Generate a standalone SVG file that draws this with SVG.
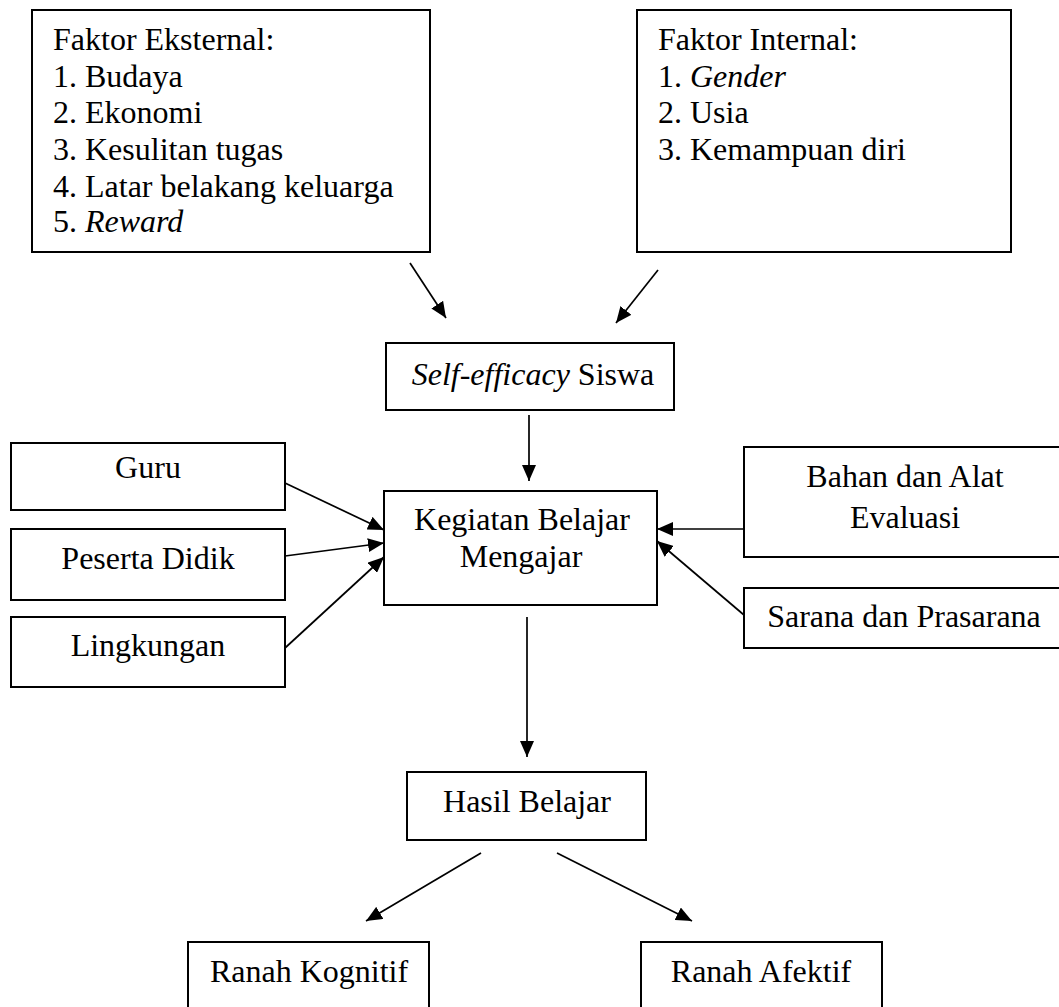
<svg xmlns="http://www.w3.org/2000/svg" width="1059" height="1007" viewBox="0 0 1059 1007">
<style>
.box{fill:#fff;stroke:#000;stroke-width:2}
.t{font-family:"Liberation Serif","Times New Roman",serif;font-size:32px;fill:#000}
.c{text-anchor:middle}
.i{font-style:italic}
.ln{stroke:#000;stroke-width:1.7;fill:none;marker-end:url(#ah)}
</style>
<defs>
<marker id="ah" viewBox="0 0 16 14" refX="16" refY="7" markerWidth="16" markerHeight="14" markerUnits="userSpaceOnUse" orient="auto">
<path d="M0,0 L16,7 L0,14 z" fill="#000"/>
</marker>
</defs>
<rect width="1059" height="1007" fill="#fff"/>
<g id="eksternal">
<rect class="box" x="32" y="10" width="398" height="242"/>
<text class="t" x="53" y="50">Faktor Eksternal:</text>
<text class="t" x="53" y="87">1. Budaya</text>
<text class="t" x="53" y="123">2. Ekonomi</text>
<text class="t" x="53" y="160">3. Kesulitan tugas</text>
<text class="t" x="53" y="197">4. Latar belakang keluarga</text>
<text class="t" x="53" y="232">5. <tspan class="i">Reward</tspan></text>
</g>
<g id="internal">
<rect class="box" x="637" y="10" width="374" height="242"/>
<text class="t" x="658" y="50">Faktor Internal:</text>
<text class="t" x="658" y="87">1. <tspan class="i">Gender</tspan></text>
<text class="t" x="658" y="123">2. Usia</text>
<text class="t" x="658" y="160">3. Kemampuan diri</text>
</g>
<g id="selfefficacy">
<rect class="box" x="386" y="343" width="288" height="67"/>
<text class="t c" x="533" y="385"><tspan class="i">Self-efficacy</tspan> Siswa</text>
</g>
<g id="guru">
<rect class="box" x="11" y="443" width="274" height="67"/>
<text class="t c" x="148" y="478">Guru</text>
</g>
<g id="peserta">
<rect class="box" x="11" y="529" width="274" height="71"/>
<text class="t c" x="148" y="569">Peserta Didik</text>
</g>
<g id="lingkungan">
<rect class="box" x="11" y="617" width="274" height="70"/>
<text class="t c" x="148" y="656">Lingkungan</text>
</g>
<g id="kbm">
<rect class="box" x="384" y="491" width="273" height="114"/>
<text class="t c" x="522" y="530">Kegiatan Belajar</text>
<text class="t c" x="521" y="567">Mengajar</text>
</g>
<g id="bahan">
<rect class="box" x="744" y="447" width="322" height="110"/>
<text class="t c" x="905" y="487">Bahan dan Alat</text>
<text class="t c" x="905" y="528">Evaluasi</text>
</g>
<g id="sarana">
<rect class="box" x="744" y="588" width="322" height="60"/>
<text class="t c" x="904" y="627">Sarana dan Prasarana</text>
</g>
<g id="hasil">
<rect class="box" x="407" y="772" width="239" height="68"/>
<text class="t c" x="527" y="812">Hasil Belajar</text>
</g>
<g id="kognitif">
<rect class="box" x="188" y="942" width="241" height="80"/>
<text class="t c" x="309" y="982">Ranah Kognitif</text>
</g>
<g id="afektif">
<rect class="box" x="641" y="942" width="241" height="80"/>
<text class="t c" x="761" y="982">Ranah Afektif</text>
</g>
<g id="connectors">
<line class="ln" x1="410" y1="263" x2="446" y2="318"/>
<line class="ln" x1="658" y1="270" x2="616" y2="323"/>
<line class="ln" x1="529" y1="415" x2="529" y2="481"/>
<line class="ln" x1="285" y1="483" x2="384" y2="530"/>
<line class="ln" x1="285" y1="556" x2="384" y2="543"/>
<line class="ln" x1="285" y1="648" x2="384" y2="557"/>
<line class="ln" x1="744" y1="529" x2="657" y2="529"/>
<line class="ln" x1="744" y1="615" x2="657" y2="541"/>
<line class="ln" x1="527" y1="617" x2="527" y2="757"/>
<line class="ln" x1="481" y1="853" x2="366" y2="921"/>
<line class="ln" x1="557" y1="853" x2="692" y2="921"/>
</g>
</svg>
